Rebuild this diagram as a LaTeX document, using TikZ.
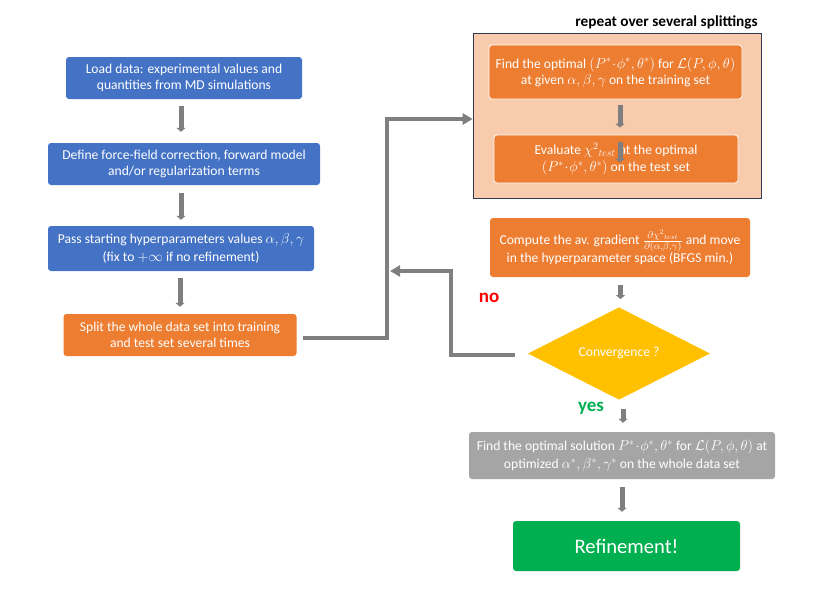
\documentclass[tikz,border=0pt]{standalone}
\usepackage{fontspec}
\setmainfont{Carlito}
\usepackage{amsmath}
\usetikzlibrary{shapes.geometric,arrows.meta}

\begin{document}
\begin{tikzpicture}[x=1pt,y=-1pt,
  box/.style={rounded corners=3pt,inner sep=0pt,align=center,text=white,font=\fontsize{13.6}{16}\selectfont},
  innerbox/.style={box,fill=orangeFill,draw=white,line width=0.8pt},
  blockarrow/.style={draw=arrowColor,line width=5pt,-{Triangle[width=9pt,length=4pt]}},
  link/.style={draw=arrowColor,line width=4pt,-{Triangle[width=11pt,length=10pt]}}]
\definecolor{blueFill}{RGB}{68,114,196}
\definecolor{orangeFill}{RGB}{237,125,49}
\definecolor{peachFill}{RGB}{248,203,173}
\definecolor{yellowFill}{RGB}{255,192,0}
\definecolor{grayFill}{RGB}{165,165,165}
\definecolor{greenFill}{RGB}{0,176,80}
\definecolor{arrowColor}{RGB}{127,127,127}
\definecolor{frameColor}{RGB}{47,59,85}
\definecolor{noColor}{RGB}{255,0,0}
\definecolor{yesColor}{RGB}{0,176,80}
\useasboundingbox (0,0) rectangle (830,589);

\node[box,fill=blueFill,minimum width=236pt,minimum height=42pt] (load) at (184,78)
  {Load data: experimental values and\\quantities from MD simulations};
\node[box,fill=blueFill,minimum width=272pt,minimum height=42pt] (define) at (184,164)
  {Define force-field correction, forward model\\and/or regularization terms};
\node[box,fill=blueFill,minimum width=266pt,minimum height=45pt] (pass) at (181,248.5)
  {Pass starting hyperparameters values $\alpha,\beta,\gamma$\\[1.5pt](fix to $+\infty$ if no refinement)};
\node[box,fill=orangeFill,minimum width=233pt,minimum height=42pt] (split) at (180,335)
  {Split the whole data set into training\\and test set several times};

\node[draw=frameColor,line width=0.6pt,fill=peachFill,minimum width=288pt,minimum height=165pt,inner sep=0pt] (repeatbox) at (617,115.5) {};
\node[anchor=base east,inner sep=0pt,font=\bfseries\fontsize{15.3}{18}\selectfont] (repeattitle) at (758,27) {repeat over several splittings};
\node[innerbox,minimum width=253pt,minimum height=54pt] (findopt) at (615.5,72)
  {Find the optimal $(P^{*}\mkern1mu{\cdot}\mkern1mu\phi^{*},\theta^{*})$ for $\mathcal{L}(P,\phi,\theta)$\\at given $\alpha,\beta,\gamma$ on the training set};
\node[innerbox,minimum width=244pt,minimum height=48pt] (evaluate) at (616,159)
  {Evaluate $\chi^{2}{}_{test}\;$at the optimal\\[1pt]$(P^{*}\mkern1mu{\cdot}\mkern1mu\phi^{*},\theta^{*})$ on the test set};

\node[box,fill=orangeFill,minimum width=260pt,minimum height=59pt] (gradient) at (620,247.5)
  {Compute the av. gradient $\frac{\partial\chi^{2}{}_{test}}{\partial(\alpha,\beta,\gamma)}$ and move\\in the hyperparameter space (BFGS min.)};
\node[diamond,fill=yellowFill,text=white,inner sep=0pt,minimum width=182pt,minimum height=75pt,font=\fontsize{13.6}{16}\selectfont] (conv) at (619,353.5) {Convergence ?};
\node[box,fill=grayFill,minimum width=306pt,minimum height=47pt] (findsol) at (622,455.5)
  {Find the optimal solution $P^{*}\mkern1mu{\cdot}\mkern1mu\phi^{*},\theta^{*}$ for $\mathcal{L}(P,\phi,\theta)$ at\\[2pt]optimized $\alpha^{*},\beta^{*},\gamma^{*}$ on the whole data set};
\node[box,fill=greenFill,minimum width=227pt,minimum height=50pt,font=\fontsize{20.6}{24}\selectfont] (refine) at (626.5,546) {Refinement!};

\node[text=noColor,font=\bfseries\fontsize{19}{22}\selectfont] (nolabel) at (489,298) {no};
\node[text=yesColor,font=\bfseries\fontsize{19}{22}\selectfont] (yeslabel) at (591,408) {yes};

\draw[blockarrow,shorten <=7pt,shorten >=11pt] ([xshift=-3pt]load.south) -- ([xshift=-3pt]define.north);
\draw[blockarrow,shorten <=8pt,shorten >=6pt] ([xshift=-3pt]define.south) -- (pass.north);
\draw[blockarrow,shorten <=7pt,shorten >=7pt] ([xshift=-1pt]pass.south) -- (split.north);
\draw[blockarrow,shorten <=6pt,shorten >=7pt] ([xshift=4.5pt]findopt.south) -- ([xshift=4pt]evaluate.north);
\draw[blockarrow] ([xshift=4pt,yshift=-7pt]evaluate.north) -- ([xshift=4pt,yshift=-28pt]evaluate.north);
\draw[blockarrow,shorten <=8pt,shorten >=8pt] ([xshift=0.5pt]gradient.south) -- ([xshift=1.5pt]conv.north);
\draw[blockarrow,shorten <=9pt,shorten >=9pt] ([xshift=4pt]conv.south) -- ([xshift=1pt]findsol.north);
\draw[blockarrow,shorten <=8pt,shorten >=9pt] (findsol.south) -- ([xshift=-4.5pt]refine.north);

\coordinate (nojoin) at (390,271);
\draw[link] ([xshift=6pt,yshift=-3pt]split.east) -| ([xshift=-86pt,yshift=-3.5pt]repeatbox.west) -- ([yshift=-3.5pt]repeatbox.west);
\draw[link] ([xshift=-13pt,yshift=-1.5pt]conv.west) -| ([xshift=61pt]nojoin) -- (nojoin);
\end{tikzpicture}
\end{document}
